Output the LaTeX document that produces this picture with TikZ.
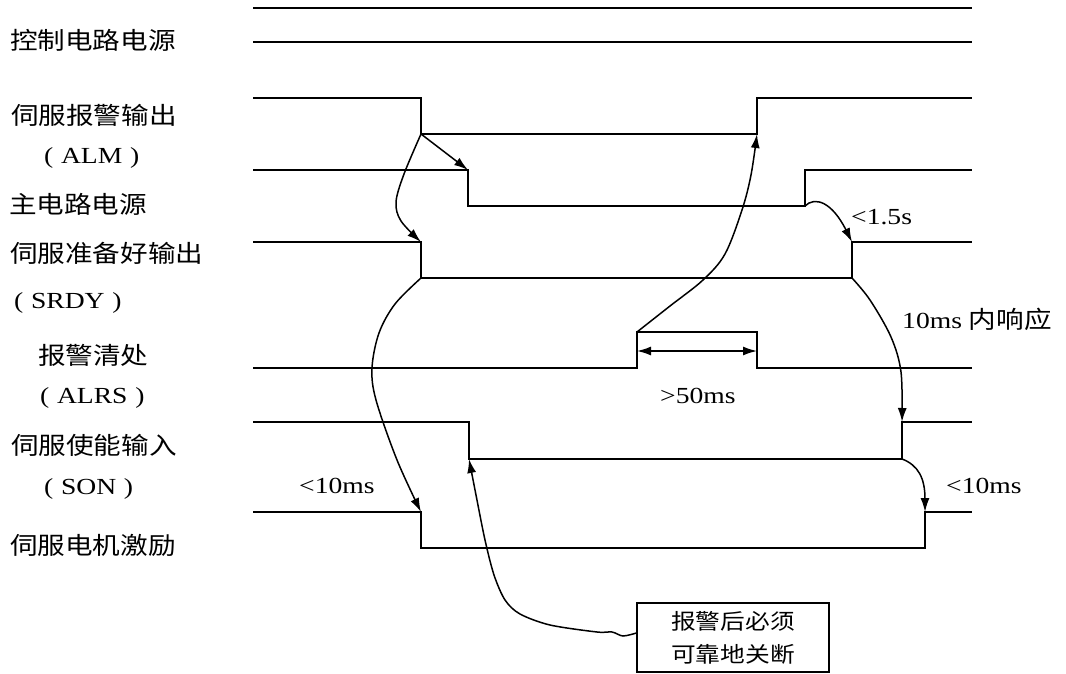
\documentclass[tikz,border=0pt]{standalone}
\usepackage{fontspec}
\setmainfont{Liberation Serif}[FakeStretch=1.2]
\newfontfamily\cjk{Noto Sans CJK SC}[FakeStretch=1.15]
\usetikzlibrary{arrows.meta}
\begin{document}
\begin{tikzpicture}[x=1pt,y=-1pt,
  sig/.style={line width=1.6pt, line join=miter},
  crv/.style={line width=1.5pt, -{Latex[length=14pt,width=9pt]}},
  cjklab/.style={inner sep=0pt, anchor=base west, font=\cjk\fontsize{24pt}{28pt}\selectfont},
  latlab/.style={inner sep=0pt, anchor=base west, font=\fontsize{23pt}{27pt}\selectfont},
  notebox/.style={draw, line width=1.4pt, minimum width=192pt, minimum height=69pt, inner sep=0pt, align=center, font=\cjk\fontsize{21.5pt}{33pt}\selectfont}
]
\useasboundingbox (0,0) rectangle (1066,674);

% ---- signal corner coordinates
\coordinate (c1a) at (253,8);   \coordinate (c1b) at (972,8);
\coordinate (c2a) at (253,42);  \coordinate (c2b) at (972,42);

\coordinate (alm0) at (253,98);  \coordinate (alm1) at (421,98);
\coordinate (alm2) at (421,134); \coordinate (alm3) at (757,134);
\coordinate (alm4) at (757,98);  \coordinate (alm5) at (972,98);

\coordinate (mp0) at (253,170);  \coordinate (mp1) at (468,170);
\coordinate (mp2) at (468,206);  \coordinate (mp3) at (805,206);
\coordinate (mp4) at (805,170);  \coordinate (mp5) at (972,170);

\coordinate (sr0) at (253,242);  \coordinate (sr1) at (421,242);
\coordinate (sr2) at (421,278);  \coordinate (sr3) at (852,278);
\coordinate (sr4) at (852,242);  \coordinate (sr5) at (972,242);

\coordinate (al0) at (253,368);  \coordinate (al1) at (637,368);
\coordinate (al2) at (637,332);  \coordinate (al3) at (757,332);
\coordinate (al4) at (757,368);  \coordinate (al5) at (972,368);

\coordinate (son0) at (253,422); \coordinate (son1) at (469,422);
\coordinate (son2) at (469,459); \coordinate (son3) at (902,459);
\coordinate (son4) at (902,422); \coordinate (son5) at (972,422);

\coordinate (mo0) at (253,512);  \coordinate (mo1) at (421,512);
\coordinate (mo2) at (421,548);  \coordinate (mo3) at (925,548);
\coordinate (mo4) at (925,512);  \coordinate (mo5) at (972,512);

\coordinate (d1) at (637,351);   \coordinate (d2) at (757,351);

% ---- waveforms
\draw[sig] (c1a) -- (c1b);
\draw[sig] (c2a) -- (c2b);
\draw[sig] (alm0) -- (alm1) -- (alm2) -- (alm3) -- (alm4) -- (alm5);
\draw[sig] (mp0) -- (mp1) -- (mp2) -- (mp3) -- (mp4) -- (mp5);
\draw[sig] (sr0) -- (sr1) -- (sr2) -- (sr3) -- (sr4) -- (sr5);
\draw[sig] (al0) -- (al1) -- (al2) -- (al3) -- (al4) -- (al5);
\draw[sig] (son0) -- (son1) -- (son2) -- (son3) -- (son4) -- (son5);
\draw[sig] (mo0) -- (mo1) -- (mo2) -- (mo3) -- (mo4) -- (mo5);

% ---- labels
\node[cjklab] (lctl) at (10,50) {控制电路电源};
\node[cjklab] (lalm) at (11,125) {伺服报警输出};
\node[latlab] (lalm2) at (44,164) {(\,\,ALM\,\,)};
\node[cjklab] (lmp) at (9,213) {主电路电源};
\node[cjklab] (lsr) at (10,262) {伺服准备好输出};
\node[latlab] (lsr2) at (14,308) {(\,\,SRDY\,\,)};
\node[cjklab] (lal) at (38,364) {报警清处};
\node[latlab] (lal2) at (40,403) {(\,\,ALRS\,\,)};
\node[cjklab] (lson) at (11,454) {伺服使能输入};
\node[latlab] (lson2) at (44,494) {(\,\,SON\,\,)};
\node[cjklab] (lmo) at (10,554) {伺服电机激励};

\node[latlab] (t15) at (851,224) {<1.5s};
\node[latlab] (t10r) at (902,328) {10ms {\cjk\fontsize{24pt}{28pt}\selectfont 内响应}};
\node[latlab] (t50) at (660,403) {>50ms};
\node[latlab] (t10a) at (299,493) {<10ms};
\node[latlab] (t10b) at (946,493) {<10ms};

\node[notebox] (box) at (733,637.5) {报警后必须\\可靠地关断};

% ---- causal arrows
\draw[crv] (alm2) -- (mp1);
\draw[crv] plot[smooth, tension=0.55] coordinates {(alm2) (404,174) (396,202) (401,221) (sr1)};
\draw[crv] plot[smooth, tension=0.55] coordinates {(sr2) (395,304) (379,333) (372,368) (376,400) (397,460) (mo1)};
\draw[crv] plot[smooth, tension=0.55] coordinates {(al2) (670,306) (703,280) (725,254) (742,210) (751,175) (alm3)};
\draw[crv] (mp3) .. controls (815,196) and (832,202) .. (sr4);
\draw[crv] plot[smooth, tension=0.55] coordinates {(sr3) (870,300) (891,337) (901,372) (son4)};
\draw[crv] (son3) .. controls (918,465) and (925,478) .. (mo4);
\draw[crv] plot[smooth, tension=0.5] coordinates {([yshift=4.5pt]box.west) (623,636) (612,632) (597,632) (550,625) (520,614) (505,600) (494,575) (485,540) (476,495) (son2)};
\draw[line width=1.5pt, {Latex[length=14pt,width=9pt]}-{Latex[length=14pt,width=9pt]}] (d1) -- (d2);
\end{tikzpicture}
\end{document}
